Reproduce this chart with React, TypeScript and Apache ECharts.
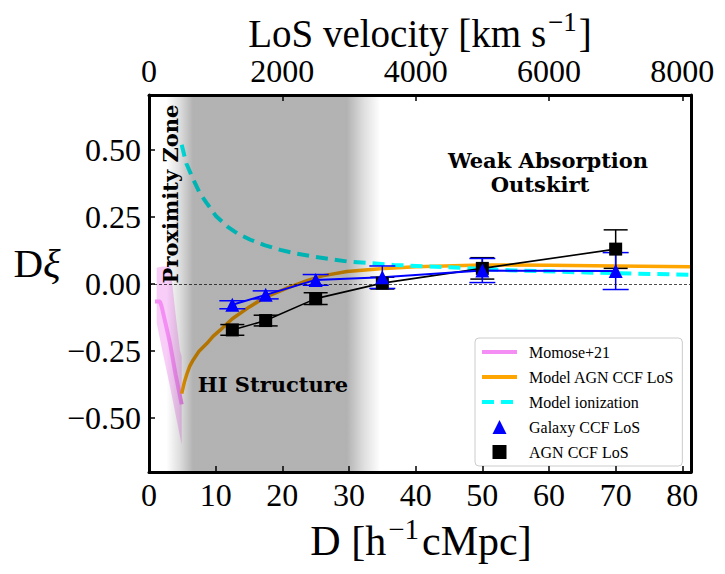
import React, { useEffect, useRef } from 'react';
import * as echarts from 'echarts';

// Axis extents
const X_MIN = 0;
const X_MAX = 81.3;
const V_MAX = 8130;
const Y_MIN = -0.703;
const Y_MAX = 0.706;

// Tick labels
const xTicks = [0, 10, 20, 30, 40, 50, 60, 70, 80];
const vTicks = [0, 2000, 4000, 6000, 8000];
const yTicks = [-0.5, -0.25, 0, 0.25, 0.5];

// Galaxy CCF LoS
const galaxyD = [12.5, 17.5, 25, 35, 50, 70];
const galaxyXi = [-0.078, -0.041, 0.015, 0.025, 0.05, 0.048];
const galaxyErr = [0.015, 0.015, 0.02, 0.042, 0.045, 0.069];

// AGN CCF LoS
const agnD = [12.5, 17.5, 25, 35, 50, 70];
const agnXi = [-0.172, -0.137, -0.055, 0.003, 0.058, 0.13];
const agnErr = [0.02, 0.02, 0.022, 0.022, 0.04, 0.072];

// Momose+21
const momoseD = [0.9, 1.65, 1.9, 2.5, 3.15, 4.0, 4.9];
const momoseXi = [-0.066, -0.066, -0.085, -0.15, -0.222, -0.34, -0.45];
const momoseBandD = [1.15, 2.0, 3.2, 4.0, 4.65, 4.9];
const momoseBandUp = [0.06, 0.065, 0.065, -0.115, -0.25, -0.27];
const momoseBandLo = [-0.146, -0.25, -0.39, -0.49, -0.57, -0.6];

// Model AGN CCF LoS
const modelAgnD = [4.9, 5.3, 5.7, 6.1, 6.6, 7.5, 8.7, 9.6, 10.7, 12.5, 15, 17.4, 20.7, 23.7, 26, 29.7, 34.7, 40, 50, 60, 70, 81.3];
const modelAgnXi = [-0.41, -0.368, -0.335, -0.308, -0.285, -0.252, -0.222, -0.196, -0.172, -0.13, -0.087, -0.05, -0.016, 0.012, 0.03, 0.046, 0.057, 0.064, 0.071, 0.07, 0.067, 0.064];

// Model ionization
const ionD = [4.9, 5.6, 6.65, 7.6, 8.66, 10, 11.7, 13.3, 15.2, 17.3, 19.7, 22, 24.7, 29.7, 36.7, 45, 55, 66.7, 81.3];
const ionXi = [0.52, 0.45, 0.39, 0.34, 0.302, 0.255, 0.215, 0.188, 0.165, 0.145, 0.127, 0.114, 0.102, 0.084, 0.071, 0.062, 0.05, 0.042, 0.034];

// HI structure shaded region: fade-in start, full start, full end, fade-out end
const hiRegion = [2.6, 6.6, 29.7, 34.7];

const SERIF = '"Liberation Serif", "Times New Roman", serif';
const BOLD_SERIF = '"DejaVu Serif", serif';

function fmtY(v: number) {
  const s = Math.abs(v).toFixed(2);
  return v < -1e-9 ? '\u2212' + s : s;
}

function errorBarSeries(name: string, d: number[], y: number[], e: number[], color: string, lw: number, cap: number) {
  return {
    type: 'custom',
    name,
    z: 4,
    silent: true,
    encode: { x: 0, y: 1 },
    data: d.map((v, i) => [v, y[i], e[i]]),
    renderItem: (params: any, api: any) => {
      const x = api.value(0);
      const yy = api.value(1);
      const ee = api.value(2);
      const top = api.coord([x, yy + ee]);
      const bot = api.coord([x, yy - ee]);
      const st = { stroke: color, lineWidth: lw };
      return {
        type: 'group',
        children: [
          { type: 'line', shape: { x1: top[0], y1: top[1], x2: bot[0], y2: bot[1] }, style: st },
          { type: 'line', shape: { x1: top[0] - cap, y1: top[1], x2: top[0] + cap, y2: top[1] }, style: st },
          { type: 'line', shape: { x1: bot[0] - cap, y1: bot[1], x2: bot[0] + cap, y2: bot[1] }, style: st },
        ],
      };
    },
  };
}

export default function App() {
  const ref = useRef<HTMLDivElement>(null);
  useEffect(() => {
    const chart = echarts.init(ref.current!, null, { renderer: 'svg' });
    const axisTickStyle = { color: '#000', width: 1.5 };
    const option: any = {
      animation: false,
      backgroundColor: '#ffffff',
      grid: { left: 149, right: 34, top: 95, bottom: 102, containLabel: false, outerBoundsMode: 'none' },
      xAxis: [
        {
          type: 'value',
          min: X_MIN,
          max: X_MAX,
          position: 'bottom',
          z: 10,
          axisLine: { show: true, onZero: false, lineStyle: { color: '#000', width: 3 } },
          axisTick: { show: true, inside: true, length: 6, lineStyle: axisTickStyle, customValues: xTicks },
          axisLabel: { show: true, customValues: xTicks, formatter: (v: number) => String(v), color: '#000', fontFamily: SERIF, fontSize: 32, margin: 7 },
          splitLine: { show: false },
        },
        {
          type: 'value',
          min: 0,
          max: V_MAX,
          position: 'top',
          z: 10,
          axisLine: { show: true, onZero: false, lineStyle: { color: '#000', width: 3 } },
          axisTick: { show: true, inside: true, length: 6, lineStyle: axisTickStyle, customValues: vTicks },
          axisLabel: { show: true, customValues: vTicks, formatter: (v: number) => String(v), color: '#000', fontFamily: SERIF, fontSize: 32, margin: 8 },
          splitLine: { show: false },
        },
      ],
      yAxis: [
        {
          type: 'value',
          min: Y_MIN,
          max: Y_MAX,
          position: 'left',
          z: 10,
          axisLine: { show: true, onZero: false, lineStyle: { color: '#000', width: 3 } },
          axisTick: { show: true, inside: true, length: 6, lineStyle: axisTickStyle, customValues: yTicks },
          axisLabel: { show: true, customValues: yTicks, formatter: fmtY, color: '#000', fontFamily: SERIF, fontSize: 32, margin: 8 },
          splitLine: { show: false },
        },
        {
          type: 'value',
          min: Y_MIN,
          max: Y_MAX,
          position: 'right',
          z: 10,
          axisLine: { show: true, onZero: false, lineStyle: { color: '#000', width: 3 } },
          axisTick: { show: false },
          axisLabel: { show: false },
          splitLine: { show: false },
        },
      ],
      legend: {
        orient: 'vertical',
        left: 475,
        top: 338,
        itemWidth: 35,
        itemHeight: 14,
        itemGap: 9,
        padding: [6, 8, 6, 5],
        backgroundColor: 'rgba(255,255,255,0.85)',
        borderColor: '#cccccc',
        borderWidth: 1,
        borderRadius: 4,
        symbolKeepAspect: true,
        selectedMode: false,
        textStyle: { color: '#000', fontFamily: SERIF, fontSize: 16, lineHeight: 16, padding: [0, 0, 0, 7] },
        data: [
          { name: 'Momose+21', itemStyle: { opacity: 0 }, lineStyle: { width: 4 } },
          { name: 'Model AGN CCF LoS', itemStyle: { opacity: 0 }, lineStyle: { width: 4 } },
          { name: 'Model ionization', itemStyle: { opacity: 0 }, lineStyle: { width: 4 } },
          { name: 'Galaxy CCF LoS', icon: 'path://M0,10L5,0L10,10Z' },
          { name: 'AGN CCF LoS', icon: 'path://M1,1H9V9H1Z' },
        ],
      },
      graphic: [
        {
          type: 'text', x: 170, y: 194, rotation: Math.PI / 2, z: 100,
          style: { text: 'Proximity Zone', fontFamily: BOLD_SERIF, fontWeight: 'bold', fontSize: 21, fill: '#000', align: 'center', verticalAlign: 'middle' },
        },
        {
          type: 'text', x: 273, y: 384, z: 100,
          style: { text: 'HI Structure', fontFamily: BOLD_SERIF, fontWeight: 'bold', fontSize: 21, fill: '#000', align: 'center', verticalAlign: 'middle' },
        },
        {
          type: 'text', x: 548, y: 160, z: 100,
          style: { text: 'Weak Absorption', fontFamily: BOLD_SERIF, fontWeight: 'bold', fontSize: 21, fill: '#000', align: 'center', verticalAlign: 'middle' },
        },
        {
          type: 'text', x: 540, y: 184, z: 100,
          style: { text: 'Outskirt', fontFamily: BOLD_SERIF, fontWeight: 'bold', fontSize: 21, fill: '#000', align: 'center', verticalAlign: 'middle' },
        },
        {
          type: 'text', x: 420, y: 33, z: 100,
          style: {
            text: '{a|LoS velocity [km s}{s|\u22121}{a|]}',
            align: 'center', verticalAlign: 'middle',
            rich: {
              a: { fontFamily: SERIF, fontSize: 39, fill: '#000', color: '#000' },
              s: { fontFamily: SERIF, fontSize: 27, fill: '#000', color: '#000', padding: [0, 2, 22, 2] },
            },
          },
        },
        {
          type: 'text', x: 421, y: 541, z: 100,
          style: {
            text: '{a|D [h}{s|\u22121}{a|cMpc]}',
            align: 'center', verticalAlign: 'middle',
            rich: {
              a: { fontFamily: SERIF, fontSize: 42, fill: '#000', color: '#000' },
              s: { fontFamily: SERIF, fontSize: 29, fill: '#000', color: '#000', padding: [0, 3, 24, 2] },
            },
          },
        },
        {
          type: 'text', x: 37, y: 263, z: 100,
          style: {
            text: '{a|D}{b|\u03be}',
            align: 'center', verticalAlign: 'middle',
            rich: {
              a: { fontFamily: SERIF, fontSize: 41, fill: '#000', color: '#000' },
              b: { fontFamily: SERIF, fontSize: 41, fontStyle: 'italic', fill: '#000', color: '#000' },
            },
          },
        },
      ],
      series: [
        {
          type: 'custom',
          name: 'momoseBand',
          z: 1,
          silent: true,
          encode: { x: 0, y: 1 },
          data: momoseBandD.map((d, i) => [d, momoseBandUp[i], momoseBandLo[i]]),
          renderItem: (params: any, api: any) => {
            if (params.dataIndex !== 0) return { type: 'group', children: [] };
            const pts: number[][] = [];
            for (let i = 0; i < momoseBandD.length; i++) pts.push(api.coord([momoseBandD[i], momoseBandUp[i]]));
            for (let i = momoseBandD.length - 1; i >= 0; i--) pts.push(api.coord([momoseBandD[i], momoseBandLo[i]]));
            return { type: 'polygon', shape: { points: pts }, style: { fill: 'rgba(238,130,238,0.4)' } };
          },
        },
        {
          type: 'line',
          name: 'Momose+21',
          z: 2,
          symbol: 'none',
          data: momoseD.map((d, i) => [d, momoseXi[i]]),
          lineStyle: { color: '#f48ef4', width: 4 },
          itemStyle: { color: '#f48ef4' },
        },
        {
          type: 'line',
          name: 'Model AGN CCF LoS',
          z: 2,
          symbol: 'none',
          smooth: false,
          data: modelAgnD.map((d, i) => [d, modelAgnXi[i]]),
          lineStyle: { color: '#ffa500', width: 3.5, join: 'round' },
          itemStyle: { color: '#ffa500' },
        },
        {
          type: 'line',
          name: 'Model ionization',
          z: 2,
          symbol: 'none',
          smooth: false,
          data: ionD.map((d, i) => [d, ionXi[i]]),
          lineStyle: { color: '#00ffff', width: 4, type: [12, 7] },
          itemStyle: { color: '#00ffff' },
        },
        {
          type: 'custom',
          name: 'hiRegion',
          z: 3,
          silent: true,
          encode: { x: 0 },
          data: [[hiRegion[0], hiRegion[3]]],
          renderItem: (params: any, api: any) => {
            const p0 = api.coord([hiRegion[0], Y_MAX]);
            const p1 = api.coord([hiRegion[3], Y_MIN]);
            const span = hiRegion[3] - hiRegion[0];
            const f1 = (hiRegion[1] - hiRegion[0]) / span;
            const f2 = (hiRegion[2] - hiRegion[0]) / span;
            return {
              type: 'rect',
              shape: { x: p0[0], y: p0[1], width: p1[0] - p0[0], height: p1[1] - p0[1] },
              style: {
                fill: new echarts.graphic.LinearGradient(0, 0, 1, 0, [
                  { offset: 0, color: 'rgba(0,0,0,0)' },
                  { offset: f1 * 0.5, color: 'rgba(0,0,0,0.13)' },
                  { offset: f1, color: 'rgba(0,0,0,0.3)' },
                  { offset: f2, color: 'rgba(0,0,0,0.3)' },
                  { offset: f2 + (1 - f2) * 0.5, color: 'rgba(0,0,0,0.13)' },
                  { offset: 1, color: 'rgba(0,0,0,0)' },
                ]),
              },
            };
          },
        },
        {
          type: 'line',
          name: 'zero',
          z: 3,
          data: [],
          markLine: {
            silent: true,
            symbol: 'none',
            label: { show: false },
            lineStyle: { color: '#000', width: 0.7, type: [3, 2] },
            data: [{ yAxis: 0 }],
          },
        },
        {
          type: 'line',
          name: 'agnLine',
          z: 4,
          symbol: 'none',
          data: agnD.map((d, i) => [d, agnXi[i]]),
          lineStyle: { color: '#000', width: 1.6 },
        },
        {
          type: 'line',
          name: 'galaxyLine',
          z: 4,
          symbol: 'none',
          data: galaxyD.map((d, i) => [d, galaxyXi[i]]),
          lineStyle: { color: '#0000ff', width: 2 },
        },
        errorBarSeries('agnErr', agnD, agnXi, agnErr, '#000', 1.5, 12),
        errorBarSeries('galaxyErr', galaxyD, galaxyXi, galaxyErr, '#0000ff', 1.5, 13),
        {
          type: 'scatter',
          name: 'AGN CCF LoS',
          z: 5,
          symbol: 'rect',
          symbolSize: 13,
          data: agnD.map((d, i) => [d, agnXi[i]]),
          itemStyle: { color: '#000', opacity: 1 },
        },
        {
          type: 'scatter',
          name: 'Galaxy CCF LoS',
          z: 5,
          symbol: 'triangle',
          symbolSize: 14,
          data: galaxyD.map((d, i) => [d, galaxyXi[i]]),
          itemStyle: { color: '#0000ff', opacity: 1 },
        },
      ],
    };
    chart.setOption(option);
    return () => chart.dispose();
  }, []);
  return (
    <div
      ref={ref}
      style={{ position: 'fixed', left: 0, top: 0, width: 725, height: 574, background: '#ffffff' }}
    />
  );
}
